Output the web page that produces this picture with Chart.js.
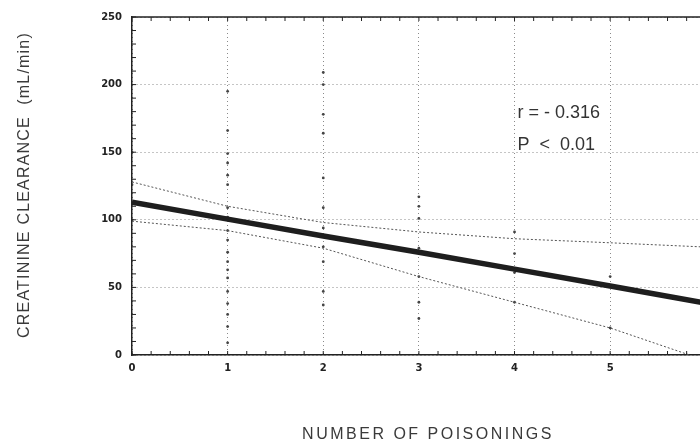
<!DOCTYPE html>
<html>
<head>
<meta charset="utf-8">
<script src="https://cdn.jsdelivr.net/npm/chart.js@4.4.1/dist/chart.umd.min.js"></script>
<style>
  html, body { margin: 0; padding: 0; background: #fff; overflow: hidden; }
  #wrap { width: 705px; height: 444px; }
</style>
</head>
<body>
<div id="wrap"><canvas id="chart"></canvas></div>
<script>
// Droite de régression et bandes de confiance
const lineX = [0, 1, 2, 3, 4, 5, 5.95];
const regression = [113, 100.5, 88, 76, 63.5, 51, 39];
const upperX = [0, 1, 2, 3, 4, 5, 5.95];
const upperBand = [128, 110, 98, 91, 86, 83, 80];
const lowerX = [0, 1, 2, 3, 4, 5, 5.83];
const lowerBand = [99, 92, 79, 58, 39, 20, 0];

// Points individuels (nombre d'intoxications, clairance)
const pointX = [
  0, 0, 0, 0,
  1, 1, 1, 1, 1, 1, 1, 1, 1, 1, 1, 1, 1, 1, 1, 1, 1, 1, 1,
  2, 2, 2, 2, 2, 2, 2, 2, 2, 2, 2,
  3, 3, 3, 3, 3, 3, 3,
  4, 4, 4, 4,
  5, 5,
];
const pointY = [
  150, 126, 112, 100,
  195, 166, 149, 142, 133, 126, 109, 102, 92, 85, 76, 69, 63, 57, 47, 38, 30, 21, 9,
  209, 200, 178, 164, 131, 109, 94, 80, 69, 47, 37,
  117, 110, 101, 79, 58, 39, 27,
  91, 75, 61, 39,
  58, 20,
];

// Axes
const xTicks = [0, 1, 2, 3, 4, 5];
const yTicks = [0, 50, 100, 150, 200, 250];
const xTitle = 'NUMBER OF POISONINGS';
const yTitle = 'CREATININE CLEARANCE  (mL/min)';

// Annotation
const noteText = ['r = - 0.316', 'P  <  0.01'];
const noteX = [4.03, 4.03];
const noteY = [179, 155];

const toPoints = (xs, ys) => xs.map((x, i) => ({ x, y: ys[i] }));

// Bordure du haut, petites graduations, annotation et titres des axes
const decorPlugin = {
  id: 'decor',
  afterDraw(chart) {
    const { ctx, chartArea } = chart;
    const xs = chart.scales.x;
    const ys = chart.scales.y;
    ctx.save();
    ctx.strokeStyle = '#222';
    ctx.lineWidth = 1.5;
    ctx.beginPath();
    ctx.moveTo(chartArea.left, chartArea.top);
    ctx.lineTo(chartArea.right, chartArea.top);
    ctx.stroke();

    ctx.lineWidth = 1;
    ctx.beginPath();
    for (let v = 0; v <= 250; v += 10) {
      const py = ys.getPixelForValue(v);
      ctx.moveTo(chartArea.left, py);
      ctx.lineTo(chartArea.left + 4, py);
    }
    for (let i = 0; i <= 29; i += 1) {
      const px = xs.getPixelForValue(i * 0.2);
      ctx.moveTo(px, chartArea.bottom);
      ctx.lineTo(px, chartArea.bottom - 4);
      ctx.moveTo(px, chartArea.top);
      ctx.lineTo(px, chartArea.top + 4);
    }
    ctx.stroke();

    ctx.fillStyle = '#333';
    ctx.font = '18px "Liberation Sans", Arial, sans-serif';
    ctx.textAlign = 'left';
    ctx.textBaseline = 'middle';
    noteText.forEach((t, i) => {
      ctx.fillText(t, xs.getPixelForValue(noteX[i]), ys.getPixelForValue(noteY[i]));
    });

    ctx.fillStyle = '#3a3a3a';
    ctx.font = '16px "Liberation Sans", Arial, sans-serif';
    ctx.textAlign = 'center';
    ctx.letterSpacing = '2.5px';
    ctx.fillText(xTitle, 428, 435);
    ctx.letterSpacing = '1.2px';
    ctx.translate(25, 185);
    ctx.rotate(-Math.PI / 2);
    ctx.fillText(yTitle, 0, 0);
    ctx.restore();
  },
};

const renderChart = () => {
  const canvas = document.getElementById('chart');
  new Chart(canvas, {
    type: 'scatter',
    data: {
      datasets: [
        {
          label: 'Régression',
          type: 'line',
          data: toPoints(lineX, regression),
          borderColor: '#1e1e1e',
          borderWidth: 5.5,
          pointRadius: 0,
          fill: false,
        },
        {
          label: 'Limite haute',
          type: 'line',
          data: toPoints(upperX, upperBand),
          borderColor: '#555',
          borderWidth: 1,
          borderDash: [2, 2],
          pointRadius: 0,
          fill: false,
        },
        {
          label: 'Limite basse',
          type: 'line',
          data: toPoints(lowerX, lowerBand),
          borderColor: '#555',
          borderWidth: 1,
          borderDash: [2, 2],
          pointRadius: 0,
          fill: false,
        },
        {
          label: 'Patients',
          data: toPoints(pointX, pointY),
          backgroundColor: '#444',
          borderWidth: 0,
          pointRadius: 1.4,
        },
      ],
    },
    options: {
      responsive: true,
      maintainAspectRatio: false,
      animation: false,
      layout: { padding: { top: 17, right: 0, left: 0, bottom: 0 } },
      plugins: {
        legend: { display: false },
        tooltip: { enabled: false },
      },
      scales: {
        x: {
          type: 'linear',
          min: 0,
          max: 5.95,
          afterFit: (scale) => { scale.height = 89; },
          afterBuildTicks: (scale) => { scale.ticks = xTicks.map((v) => ({ value: v })); },
          ticks: {
            padding: 7,
            color: '#222',
            font: { family: '"DejaVu Sans", sans-serif', size: 10, weight: 'bold' },
          },
          grid: { color: '#8a8a8a', drawTicks: false },
          border: { display: true, color: '#222', width: 1.5, dash: [1, 3] },
        },
        y: {
          min: 0,
          max: 250,
          afterFit: (scale) => { scale.width = 132; },
          afterBuildTicks: (scale) => { scale.ticks = yTicks.map((v) => ({ value: v })); },
          ticks: {
            padding: 10,
            color: '#222',
            font: { family: '"DejaVu Sans", sans-serif', size: 10, weight: 'bold' },
          },
          grid: { color: '#8a8a8a', drawTicks: false },
          border: { display: true, color: '#222', width: 1.5, dash: [1, 3] },
        },
      },
    },
    plugins: [decorPlugin],
  });
};

renderChart();
</script>
</body>
</html>
